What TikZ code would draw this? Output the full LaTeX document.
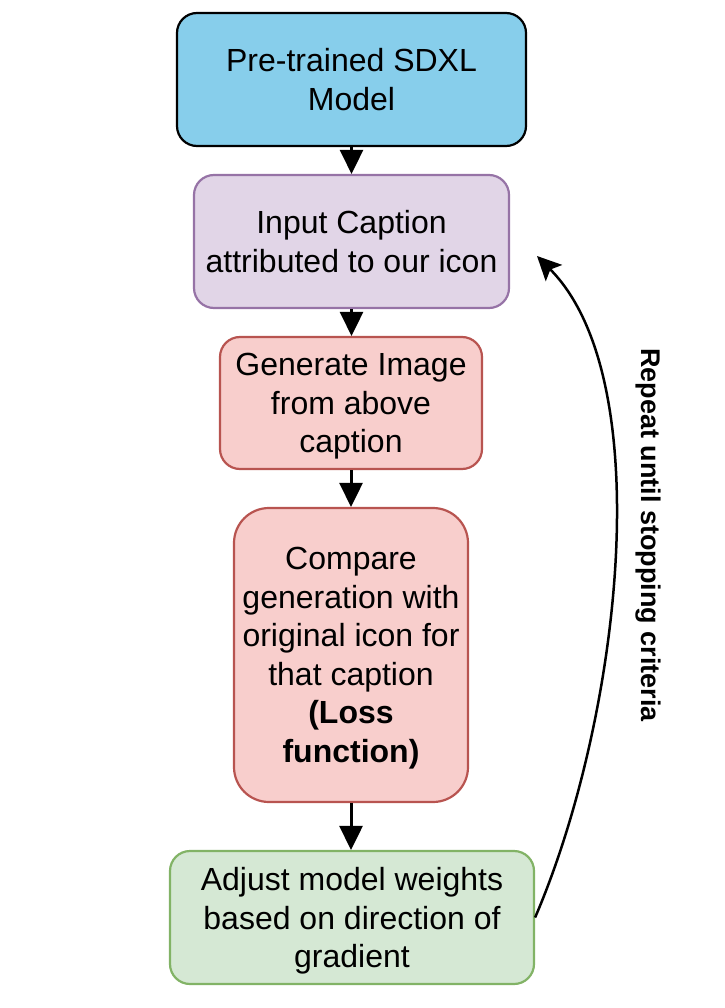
\documentclass[tikz,border=0pt]{standalone}
\usepackage{fontspec}
\setmainfont{Liberation Sans}
\usetikzlibrary{arrows.meta}
\definecolor{skyfill}{HTML}{87CEEB}
\definecolor{lilacfill}{HTML}{E1D5E7}
\definecolor{lilacdraw}{HTML}{9673A6}
\definecolor{rosefill}{HTML}{F8CECC}
\definecolor{rosedraw}{HTML}{B85450}
\definecolor{mintfill}{HTML}{D5E8D4}
\definecolor{mintdraw}{HTML}{82B366}
\newcommand{\boxfont}{\fontsize{32}{38.5}\selectfont}
\newcommand{\notefont}{\fontsize{27}{32}\selectfont\bfseries}
\tikzset{
  box/.style  = {draw=black, line width=2.2pt, rounded corners=20pt, align=center,
                 font=\boxfont, inner sep=0pt, text depth=0pt},
  sig/.style  = {-{Triangle[length=24pt, width=23pt]}, line width=3pt},
  fb/.style   = {-{Stealth[length=24pt, width=23pt, inset=5pt]}, line width=2.5pt},
  note/.style = {font=\notefont, rotate=-90},
}

\begin{document}
\begin{tikzpicture}[x=1pt, y=-1pt]
  \useasboundingbox (0,0) rectangle (724,1008);

  \node[box, fill=skyfill, minimum width=349pt, minimum height=133pt]
    (model) at (351.5,79.5) {Pre-trained SDXL\\Model};
  \node[box, fill=lilacfill, draw=lilacdraw, minimum width=315pt, minimum height=133pt]
    (caption) at (351.5,241.5) {Input Caption\\attributed to our icon};
  \node[box, fill=rosefill, draw=rosedraw, minimum width=262pt, minimum height=132pt]
    (gen) at (351,403) {Generate Image\\from above\\caption};
  \node[box, fill=rosefill, draw=rosedraw, rounded corners=35pt,
        minimum width=234pt, minimum height=294pt]
    (loss) at (351,655) {Compare\\generation with\\original icon for\\that caption\\
                         \textbf{(Loss}\\\textbf{function)}};
  \node[box, fill=mintfill, draw=mintdraw, minimum width=364pt, minimum height=133pt]
    (adjust) at (352,917.5) {Adjust model weights\\based on direction of\\gradient};

  \draw[sig] (model.south) -- (model.south |- caption.north);
  \draw[sig] (caption.south) -- (caption.south |- gen.north);
  \draw[sig] (gen.south) -- (gen.south |- loss.north);
  \draw[sig] (loss.south) -- (loss.south |- adjust.north);

  % feedback loop
  \coordinate (back) at (537,256);
  \draw[fb] (adjust.east) .. controls (620,720) and (660,380) .. (back);
  \node[note] (repeat) at (648,535) {Repeat until stopping criteria};
\end{tikzpicture}
\end{document}
